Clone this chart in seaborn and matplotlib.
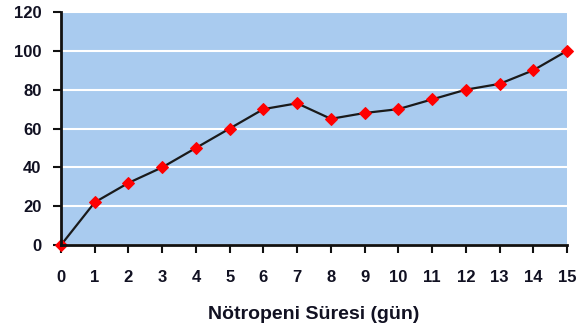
import pandas as pd
import matplotlib.pyplot as plt
import seaborn as sns

# neutropenia duration (days) vs cumulative %
days = list(range(0, 16))
values = [0, 22, 32, 40, 50, 60, 70, 73, 65, 68, 70, 75, 80, 83, 90, 100]
y_ticks = [0, 20, 40, 60, 80, 100, 120]

df = pd.DataFrame({"gun": days, "deger": values})

sns.set_style("white")
plt.rcParams['font.family'] = ['Liberation Sans', 'DejaVu Sans']

fig = plt.figure(figsize=(5.77, 3.25), dpi=100)
ax = fig.add_axes([0.1057, 0.246, 0.877, 0.717])
ax.set_facecolor('#a9cbef')

sns.lineplot(data=df, x="gun", y="deger", ax=ax, color='#1a1a1a', linewidth=1.6,
             marker='D', markersize=6, markerfacecolor='#ff0000', markeredgecolor='#ff0000')

ax.set_xlim(0, 15)
ax.set_ylim(0, 120)
ax.set_xticks(days)
ax.set_yticks(y_ticks)
ax.yaxis.grid(True, color='white', linewidth=1.5)
ax.set_axisbelow(True)
for lbl in ax.get_xticklabels() + ax.get_yticklabels():
    lbl.set_fontweight('bold')
    lbl.set_fontsize(12)
    lbl.set_color('#111122')
ax.tick_params(axis='both', direction='out', length=6, width=1.5, color='#111111')
ax.tick_params(axis='x', pad=12)
ax.tick_params(axis='y', pad=8)
ax.xaxis.set_ticks_position('bottom')
ax.yaxis.set_ticks_position('left')

for s in ['top', 'right']:
    ax.spines[s].set_visible(False)
for s in ['left', 'bottom']:
    ax.spines[s].set_color('#111111')
    ax.spines[s].set_linewidth(2)

ax.set_xlabel("Nötropeni Süresi (gün)", fontsize=14, fontweight='bold', color='#111122', labelpad=15)
ax.set_ylabel("")

for l in ax.get_lines():
    l.set_clip_on(False)

fig.savefig("out.png", dpi=100)
